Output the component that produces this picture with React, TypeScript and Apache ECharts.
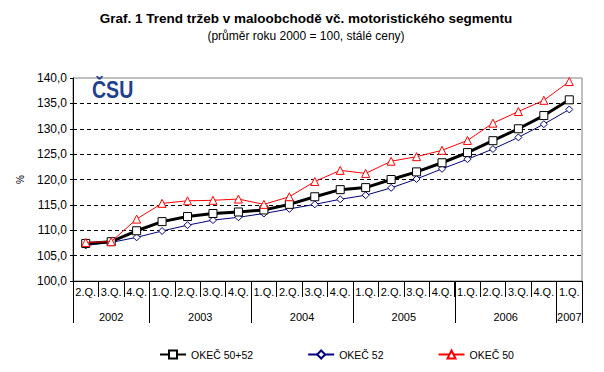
import React, { useEffect, useRef } from "react";
import * as echarts from "echarts";

const quarters = [
  "2.Q.", "3.Q.", "4.Q.",
  "1.Q.", "2.Q.", "3.Q.", "4.Q.",
  "1.Q.", "2.Q.", "3.Q.", "4.Q.",
  "1.Q.", "2.Q.", "3.Q.", "4.Q.",
  "1.Q.", "2.Q.", "3.Q.", "4.Q.",
  "1.Q.",
];
const years = ["2002", "2003", "2004", "2005", "2006", "2007"];
const quartersPerYear = [3, 4, 4, 4, 4, 1];

const okec5052 = [107.4, 107.75, 109.9, 111.7, 112.7, 113.3, 113.6, 114.0, 115.1, 116.6, 118.0, 118.4, 120.0, 121.5, 123.3, 125.3, 127.65, 130.0, 132.6, 135.7];
const okec52 = [107.0, 107.6, 108.6, 109.85, 111.0, 112.0, 112.55, 113.3, 114.2, 115.1, 116.1, 116.9, 118.35, 120.1, 122.1, 124.0, 126.0, 128.3, 130.9, 133.8];
const okec50 = [107.6, 107.75, 112.2, 115.3, 115.8, 115.9, 116.15, 115.1, 116.6, 119.6, 121.8, 121.2, 123.6, 124.5, 125.75, 127.7, 131.1, 133.4, 135.6, 139.3];

const seriesNames = ["OKEČ 50+52", "OKEČ 52", "OKEČ 50"];
const titleText = "Graf. 1 Trend tržeb v maloobchodě vč. motoristického segmentu";
const subtitleText = "(průměr roku 2000 = 100, stálé ceny)";

const FONT = "'Liberation Sans', Arial, sans-serif";

export default function App() {
  const ref = useRef<HTMLDivElement>(null);
  useEffect(() => {
    if (!ref.current) return;
    const chart = echarts.init(ref.current, undefined, { renderer: "svg" });

    const boundaries: number[] = [0];
    const centers: number[] = [];
    quartersPerYear.forEach((n) => {
      const start = boundaries[boundaries.length - 1];
      centers.push(start + n / 2);
      boundaries.push(start + n);
    });

    chart.setOption({
      animation: false,
      backgroundColor: "#ffffff",
      textStyle: { fontFamily: FONT },
      title: [
        {
          text: titleText,
          left: 306,
          top: 11,
          padding: 0,
          textAlign: "center",
          textStyle: { fontFamily: FONT, fontSize: 13.5, fontWeight: "bold", color: "#000" },
        },
        {
          text: subtitleText,
          left: 306,
          top: 30,
          padding: 0,
          textAlign: "center",
          textStyle: { fontFamily: FONT, fontSize: 12, fontWeight: "normal", color: "#000" },
        },
      ],
      graphic: [
        {
          type: "text",
          left: 92,
          top: 79,
          scaleX: 0.85,
          style: {
            text: "ČSU",
            fontFamily: FONT,
            fontSize: 23,
            fontWeight: "bold",
            fill: "#1f3f8f",
          },
        },
      ],
      legend: {
        left: 159,
        top: 349,
        padding: 0,
        itemGap: 54,
        itemWidth: 26,
        itemHeight: 10,
        textStyle: { fontFamily: FONT, fontSize: 10.5, color: "#000" },
        data: seriesNames,
      },
      grid: {
        left: 73,
        right: 22,
        top: 78,
        bottom: 91,
        show: true,
        borderColor: "#808080",
        borderWidth: 1,
        backgroundColor: "#ffffff",
      },
      xAxis: [
        {
          type: "category",
          data: quarters,
          boundaryGap: true,
          axisLine: { show: true, lineStyle: { color: "#000", width: 1 } },
          axisTick: { show: true, interval: 0, length: 16, lineStyle: { color: "#000" } },
          axisLabel: { interval: 0, margin: 5, fontFamily: FONT, fontSize: 11, color: "#000" },
          splitLine: { show: false },
        },
        {
          type: "value",
          min: 0,
          max: quarters.length,
          position: "bottom",
          axisLine: { show: false },
          axisTick: {
            show: true,
            customValues: boundaries,
            length: 42,
            lineStyle: { color: "#000" },
          },
          axisLabel: {
            show: true,
            customValues: centers,
            margin: 30,
            fontFamily: FONT,
            fontSize: 11,
            color: "#000",
            formatter: (v: number) => {
              const i = centers.findIndex((c) => Math.abs(c - v) < 1e-6);
              return i >= 0 ? years[i] : "";
            },
          },
          splitLine: { show: false },
        },
      ],
      yAxis: {
        type: "value",
        min: 100,
        max: 140,
        interval: 5,
        name: "%",
        nameLocation: "middle",
        nameGap: 48,
        nameRotate: 90,
        nameTextStyle: { fontFamily: FONT, fontSize: 10, color: "#000" },
        axisLine: { show: true, lineStyle: { color: "#000", width: 1 } },
        axisTick: { show: true, length: 3, lineStyle: { color: "#000" } },
        axisLabel: {
          margin: 6,
          fontFamily: FONT,
          fontSize: 12,
          color: "#000",
          formatter: (v: number) => v.toFixed(1).replace(".", ","),
        },
        splitLine: {
          show: true,
          showMinLine: false,
          showMaxLine: false,
          lineStyle: { color: "#000", type: [4, 3], width: 1 },
        },
      },
      series: [
        {
          name: seriesNames[0],
          type: "line",
          data: okec5052,
          symbol: "rect",
          symbolSize: 8,
          z: 3,
          lineStyle: { color: "#000", width: 3 },
          itemStyle: { color: "#fff", borderColor: "#000", borderWidth: 1 },
          emphasis: { disabled: true },
        },
        {
          name: seriesNames[1],
          type: "line",
          data: okec52,
          symbol: "diamond",
          symbolSize: 7,
          z: 2,
          lineStyle: { color: "#000080", width: 1 },
          itemStyle: { color: "#fff", borderColor: "#000080", borderWidth: 1 },
          emphasis: { disabled: true },
        },
        {
          name: seriesNames[2],
          type: "line",
          data: okec50,
          symbol: "triangle",
          symbolSize: 8,
          z: 4,
          lineStyle: { color: "#ff0000", width: 1 },
          itemStyle: { color: "#fff", borderColor: "#ff0000", borderWidth: 1 },
          emphasis: { disabled: true },
        },
      ],
    });
    return () => chart.dispose();
  }, []);
  return (
    <div
      ref={ref}
      style={{ position: "absolute", left: 0, top: 0, width: 604, height: 372 }}
    />
  );
}
